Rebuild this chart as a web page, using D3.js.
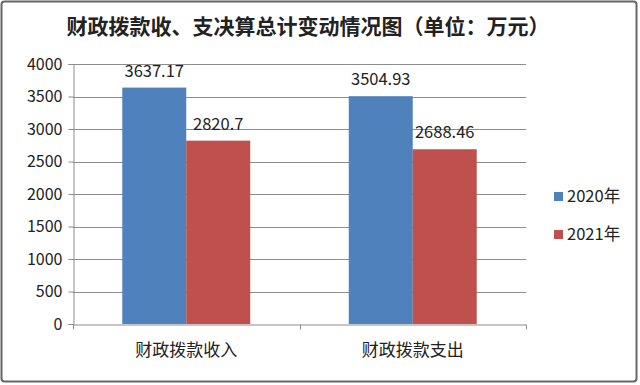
<!DOCTYPE html>
<html>
  <head>
    <meta charset="utf-8" />
    <title>财政拨款收、支决算总计变动情况图</title>
    <script src="https://d3js.org/d3.v7.min.js"></script>
    <style>
      body { margin: 0; background: #fff; }
      text { font-family: "Noto Sans CJK SC", "Liberation Sans", sans-serif; fill: #222; }
    </style>
  </head>
  <body>
    <svg width="640" height="385"></svg>
    <script>
      var categories = ["财政拨款收入", "财政拨款支出"];
      var seriesNames = ["2020年", "2021年"];
      var values2020 = [3637.17, 3504.93];
      var values2021 = [2820.7, 2688.46];
      var labels2020 = ["3637.17", "3504.93"];
      var labels2021 = ["2820.7", "2688.46"];
      var yTicks = [0, 500, 1000, 1500, 2000, 2500, 3000, 3500, 4000];
      var colors = ["#4F81BD", "#C0504D"];

      var svg = d3.select("svg");

      // 外框
      svg.append("rect")
        .attr("x", 1.5).attr("y", 1.5)
        .attr("width", 635).attr("height", 380)
        .attr("rx", 3)
        .attr("fill", "#fff")
        .attr("stroke", "#666")
        .attr("stroke-width", 2);

      svg.append("text")
        .attr("x", 308).attr("y", 34)
        .attr("text-anchor", "middle")
        .attr("font-size", 21)
        .attr("font-weight", "bold")
        .text("财政拨款收、支决算总计变动情况图（单位：万元）");

      var plotLeft = 73, plotRight = 526, plotTop = 64, plotBottom = 324;

      var x = d3.scaleBand().domain(categories).range([plotLeft, plotRight]);
      var x1 = d3.scaleBand().domain(seriesNames)
        .range([0, x.bandwidth()]).paddingOuter(0.77).paddingInner(0);
      var y = d3.scaleLinear().domain([0, 4000]).range([plotBottom, plotTop]);

      // 网格线
      svg.append("g")
        .selectAll("line")
        .data(yTicks.filter(function (d) { return d > 0; }))
        .enter().append("line")
        .attr("x1", plotLeft).attr("x2", plotRight)
        .attr("y1", function (d) { return Math.round(y(d)) + 0.5; })
        .attr("y2", function (d) { return Math.round(y(d)) + 0.5; })
        .attr("stroke", "#8c8c8c");

      var yAxis = svg.append("g")
        .attr("transform", "translate(" + (plotLeft + 0.5) + ",0)")
        .call(d3.axisLeft(y).tickValues(yTicks).tickSize(5).tickPadding(6).tickFormat(d3.format("d")));
      yAxis.select(".domain").attr("stroke", "#8c8c8c");
      yAxis.selectAll(".tick line").attr("stroke", "#8c8c8c");
      yAxis.selectAll("text")
        .attr("font-size", 16)
        .attr("font-family", "Liberation Sans, sans-serif")
        .attr("fill", "#222");

      var xAxis = svg.append("g")
        .attr("transform", "translate(0," + (plotBottom + 0.5) + ")")
        .call(d3.axisBottom(x).tickSize(0).tickPadding(19));
      xAxis.select(".domain").attr("stroke", "#8c8c8c");
      xAxis.selectAll("text").attr("font-size", 17).attr("fill", "#222");
      xAxis.selectAll(".sep")
        .data([plotLeft, x(categories[1]), plotRight])
        .enter().append("line")
        .attr("x1", function (d) { return Math.round(d) + 0.5; })
        .attr("x2", function (d) { return Math.round(d) + 0.5; })
        .attr("y1", 0).attr("y2", 5)
        .attr("stroke", "#8c8c8c");

      var series = [
        { name: seriesNames[0], values: values2020, labels: labels2020, color: colors[0] },
        { name: seriesNames[1], values: values2021, labels: labels2021, color: colors[1] }
      ];

      series.forEach(function (s) {
        var g = svg.append("g");
        g.selectAll("rect")
          .data(categories)
          .enter().append("rect")
          .attr("x", function (d) { return x(d) + x1(s.name); })
          .attr("width", x1.bandwidth())
          .attr("y", function (d, i) { return y(s.values[i]); })
          .attr("height", function (d, i) { return plotBottom - y(s.values[i]); })
          .attr("fill", s.color);
        g.selectAll("text")
          .data(categories)
          .enter().append("text")
          .attr("x", function (d) { return x(d) + x1(s.name) + x1.bandwidth() / 2; })
          .attr("y", function (d, i) { return y(s.values[i]) - 11; })
          .attr("text-anchor", "middle")
          .attr("font-size", 16.5)
          .attr("font-family", "Liberation Sans, sans-serif")
          .text(function (d, i) { return s.labels[i]; });
      });

      // 图例
      var legend = svg.append("g")
        .selectAll("g")
        .data(series)
        .enter().append("g")
        .attr("transform", function (d, i) { return "translate(554," + (192 + i * 38) + ")"; });
      legend.append("rect")
        .attr("width", 9).attr("height", 9)
        .attr("fill", function (d) { return d.color; });
      legend.append("text")
        .attr("x", 13).attr("y", 10)
        .attr("font-size", 16.5)
        .text(function (d) { return d.name; });
    </script>
  </body>
</html>
